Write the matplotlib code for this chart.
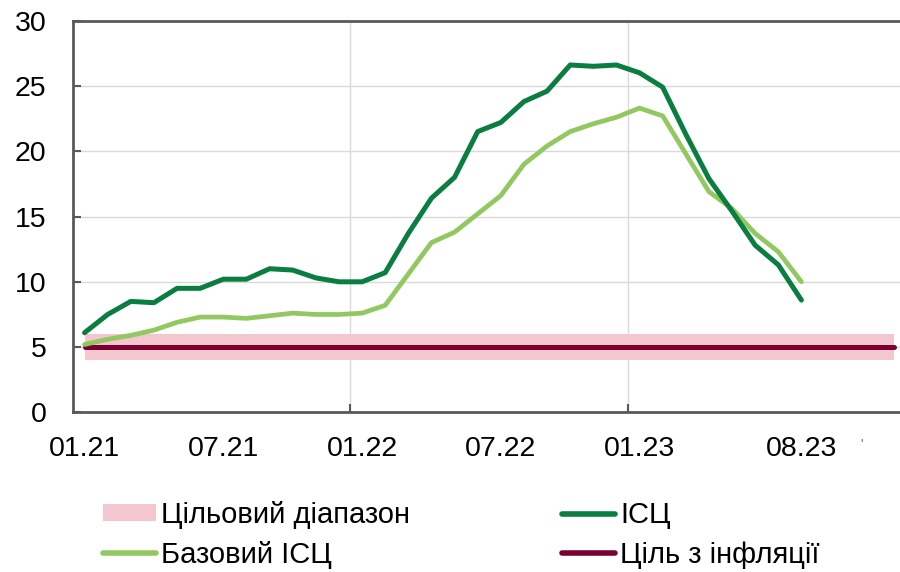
import matplotlib
matplotlib.use("Agg")
import matplotlib.pyplot as plt
import numpy as np
from matplotlib.patches import Patch
from matplotlib.lines import Line2D

plt.rcParams['font.family'] = ['Liberation Sans', 'DejaVu Sans']

# monthly values, 01.21 .. 08.23
cpi = [6.1, 7.5, 8.5, 8.4, 9.5, 9.5, 10.2, 10.2, 11.0, 10.9, 10.3, 10.0,
       10.0, 10.7, 13.7, 16.4, 18.0, 21.5, 22.2, 23.8, 24.6, 26.6, 26.5, 26.6,
       26.0, 24.9, 21.3, 17.9, 15.4, 12.8, 11.3, 8.6]
core_cpi = [5.2, 5.6, 5.9, 6.3, 6.9, 7.3, 7.3, 7.2, 7.4, 7.6, 7.5, 7.5,
            7.6, 8.2, 10.6, 13.0, 13.8, 15.2, 16.6, 19.0, 20.4, 21.5, 22.1, 22.6,
            23.3, 22.7, 19.8, 16.9, 15.6, 13.7, 12.3, 10.0]
n_months = 36  # target range runs to 12.23
target = 5.0
band_low, band_high = 4.0, 6.0

tick_pos = [0, 6, 12, 18, 24, 31]
tick_labels = ["01.21", "07.21", "01.22", "07.22", "01.23", "08.23"]

c_cpi = "#0A7D41"
c_core = "#92C860"
c_target = "#7A0030"
c_band = "#F4C6CF"
c_spine = "#595959"
c_grid = "#D9D9D9"

fig = plt.figure(figsize=(9, 5.72), dpi=100)
ax = fig.add_axes([0.0811, 0.279, 0.925, 0.685])

x_all = np.arange(n_months)
x = np.arange(len(cpi))

ax.fill_between([x_all[0], x_all[-1]], band_low, band_high, color=c_band, lw=0, zorder=1)
ax.plot([x_all[0], x_all[-1]], [target, target], color=c_target, lw=3.6,
        solid_capstyle='round', zorder=3)
ax.plot(x, core_cpi, color=c_core, lw=3.4, solid_capstyle='round', zorder=4)
ax.plot(x, cpi, color=c_cpi, lw=3.6, solid_capstyle='round', zorder=5)

ax.set_xlim(-0.5, n_months - 0.5)
ax.set_ylim(0, 30)

ax.set_yticks(np.arange(0, 31, 5))
ax.tick_params(axis='y', direction='in', length=6, width=1.5, color=c_spine,
               labelsize=20.5, pad=19)
ax.set_xticks([11.5, 23.5])
ax.set_xticklabels([])
ax.set_xticks(tick_pos, minor=True)
ax.set_xticklabels(tick_labels, minor=True)
ax.tick_params(axis='x', which='major', direction='in', length=6, width=1.5,
               color=c_spine)
ax.tick_params(axis='x', which='minor', length=0, labelsize=20.5, pad=17)

ax.grid(True, which='major', color=c_grid, lw=1, zorder=0)
ax.set_axisbelow(True)

for side in ['left', 'bottom', 'top', 'right']:
    ax.spines[side].set_color(c_spine)
    ax.spines[side].set_linewidth(2)

ax.text(33.6, -2.4, "'", fontsize=9, color=c_spine, ha='center', va='center')

handles = [
    Patch(facecolor=c_band, edgecolor='none'),
    Line2D([], [], color=c_core, lw=4, solid_capstyle='round'),
    Line2D([], [], color=c_cpi, lw=4, solid_capstyle='round'),
    Line2D([], [], color=c_target, lw=4, solid_capstyle='round'),
]
labels = ["Цільовий діапазон", "Базовий ІСЦ", "ІСЦ", "Ціль з інфляції"]
fig.legend(handles, labels, ncol=2, loc='upper left',
           bbox_to_anchor=(103 / 900, 1 - 501 / 572), frameon=False,
           fontsize=21, handlelength=1.8, handleheight=0.5, handletextpad=0.2,
           columnspacing=5.2, labelspacing=0.4, borderpad=0, borderaxespad=0)

fig.savefig("out.png", dpi=100)
